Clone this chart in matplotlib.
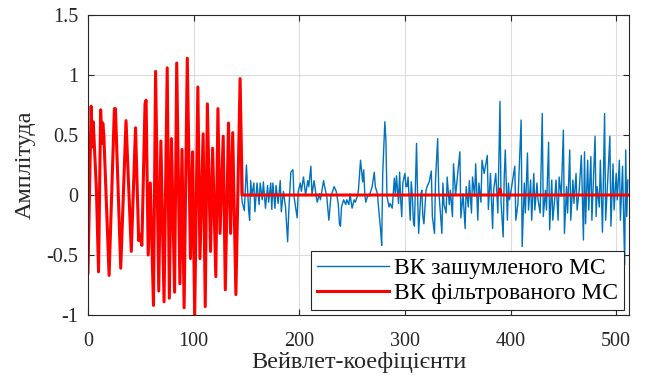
import numpy as np
import matplotlib
matplotlib.use("Agg")
import matplotlib.pyplot as plt

# %% Дані (вершини ламаної)
# ВК фільтрованого МС: індекс коефіцієнта та амплітуда
red_idx = [0, 3, 4, 5, 8, 10, 12, 13, 14, 15, 20, 25, 26, 31, 36, 41, 45, 48, 49, 51, 54, 55, 57,
           59, 62, 64, 67, 69, 72, 75, 77, 79, 82, 84, 87, 89, 91, 94, 97, 99, 101, 104, 106,
           109, 111, 113, 116, 118, 121, 123, 125, 128, 130, 133, 135, 137, 140, 144, 146,
           389, 390, 391, 511]
red_val = [-0.65, 0.74, 0.40, 0.61, 0.04, -0.64, 0.71, 0.43, 0.60, 0.50, -0.67, 0.72, 0.72, -0.61, 0.62, -0.47, 0.56, -0.38, -0.33, -0.42, 0.76, 0.79, -0.50,
           0.10, -0.92, 1.03, -0.80, 0.45, -0.89, 1.06, -0.86, 0.47, -0.81, 1.10, -0.74, 0.38, -0.94, 1.14, -0.53, 0.36, -1.02, 0.90, -0.53,
           0.51, -0.93, 0.76, -0.47, 0.39, -0.68, 0.72, -0.32, 0.49, -0.79, 0.60, -0.32, 0.52, -0.83, 0.97, 0.0,
           0.0, 0.05, 0.0, 0.0]

# ВК зашумленого МС: після 145-го коефіцієнта (до того збігається з фільтрованим)
noise_idx = [145, 146, 148, 150, 152, 153, 154, 155, 157, 158, 160, 162, 163, 165, 166, 168, 170, 171, 173, 174,
             175, 177, 178, 180, 182, 183, 185, 187, 189, 190, 192, 194, 195, 198, 199, 201, 202, 204, 206, 208,
             209, 211, 212, 214, 216, 217, 219, 220, 223, 224, 226, 228, 230, 233, 235, 237, 238, 239, 240, 242,
             244, 245, 247, 248, 250, 252, 253, 255, 256, 258, 260, 261, 262, 263, 265, 266, 268, 269, 271, 272,
             274, 275, 277, 278, 279, 281, 282, 283, 285, 286, 288, 290, 291, 292, 294, 295, 296, 297, 298, 300,
             301, 302, 303, 305, 306, 307, 308, 309, 311, 312, 313, 315, 316, 317, 318, 320, 321, 323, 325, 326,
             328, 329, 331, 332, 335, 336, 337, 339, 340, 342, 343, 345, 346, 348, 352, 353, 355, 357, 358, 360,
             361, 363, 364, 366, 367, 369, 370, 372, 373, 375, 378, 379, 381, 383, 384, 386, 388, 390, 391, 393,
             394, 395, 397, 398, 399, 400, 404, 405, 407, 408, 410, 411, 413, 414, 416, 417, 419, 420, 422, 423,
             425, 426, 428, 430, 431, 433, 434, 436, 437, 439, 440, 442, 443, 445, 446, 448, 450, 451, 453, 454,
             456, 457, 459, 460, 462, 463, 465, 467, 469, 470, 471, 473, 474, 476, 477, 480, 481, 482, 484, 485,
             487, 489, 490, 492, 494, 495, 497, 498, 500, 501, 503, 504, 506, 508, 509, 510, 511]
noise_val = [0.02, -0.06, -0.13, 0.25, -0.12, -0.21, 0.12, -0.01, 0.10, -0.14, 0.10, -0.08, 0.10, -0.04, 0.11, -0.11, 0.08, -0.06, 0.10, -0.12,
             0.10, -0.11, 0.08, -0.07, 0.12, -0.14, 0.03, -0.10, -0.39, -0.15, 0.19, 0.21, -0.01, -0.19, 0.03, 0.10, 0.03, 0.15, 0.00, 0.12,
             0.07, 0.24, 0.00, 0.12, -0.01, -0.06, 0.01, -0.04, 0.12, 0.07, -0.01, -0.21, -0.01, 0.07, 0.03, -0.08, -0.24, -0.26, -0.10, -0.04,
             -0.08, -0.04, -0.08, 0.01, -0.11, -0.04, -0.06, -0.01, 0.04, 0.29, 0.11, 0.21, 0.01, -0.06, 0.00, -0.01, 0.04, 0.07, 0.19, 0.07,
             0.01, -0.10, -0.29, -0.42, 0.18, 0.61, 0.46, -0.01, -0.10, -0.07, -0.11, 0.14, -0.01, 0.16, -0.07, 0.19, -0.04, -0.18, 0.10, 0.18,
             0.07, 0.07, 0.15, -0.21, 0.11, 0.00, -0.22, -0.26, 0.43, 0.00, -0.32, 0.00, 0.04, -0.18, -0.24, 0.04, 0.07, 0.11, 0.20, -0.18,
             -0.32, 0.13, 0.47, 0.04, -0.32, 0.10, -0.08, -0.15, 0.15, -0.08, 0.04, -0.18, 0.26, 0.00, 0.36, -0.19, 0.01, -0.28, 0.07, -0.10,
             0.12, -0.15, 0.15, -0.01, 0.26, -0.21, 0.10, -0.06, 0.29, 0.18, 0.33, -0.12, 0.18, -0.28, 0.04, 0.18, -0.15, 0.78, -0.06, -0.35,
             0.15, 0.375, -0.21, 0.10, -0.04, 0.01, 0.24, -0.21, -0.07, 0.18, 0.625, -0.43, 0.10, -0.15, 0.35, -0.125, 0.125, -0.21, 0.18, -0.125,
             0.10, -0.04, -0.15, 0.68, -0.18, 0.04, -0.125, 0.44, -0.29, 0.125, -0.21, -0.01, 0.125, -0.21, 0.15, -0.01, 0.54, -0.32, 0.07, -0.15,
             0.375, -0.21, 0.125, -0.07, 0.18, -0.125, 0.04, 0.33, -0.375, 0.36, -0.24, 0.29, -0.125, 0.32, -0.21, 0.49, -0.18, 0.07, -0.10, 0.29,
             -0.31, 0.68, -0.21, 0.125, 0.49, -0.26, 0.26, -0.125, 0.18, -0.04, 0.29, -0.21, 0.24, -0.58, 0.375, -0.18, 0.125]

x_ticks = [0, 100, 200, 300, 400, 500]
y_ticks = [-1, -0.5, 0, 0.5, 1, 1.5]
y_tick_labels = ["-1", "-0.5", "0", "0.5", "1", "1.5"]

# зашумлений сигнал = фільтрований до 144-го + шум далі
blue_idx = red_idx[:red_idx.index(144) + 1] + noise_idx
blue_val = red_val[:red_idx.index(144) + 1] + noise_val

# %% Рисунок
plt.rcParams["font.family"] = ["Liberation Serif", "DejaVu Serif"]
fig = plt.figure(figsize=(6.45, 3.81), dpi=100)
ax = fig.add_axes([0.1364, 0.1732, 0.8386, 0.7874])

ax.plot(blue_idx, blue_val, color="#0072BD", lw=1.0, label="ВК зашумленого МС")
ax.plot(red_idx, red_val, color="red", lw=2.2, label="ВК фільтрованого МС")

ax.set_xlim(0, 512)
ax.set_ylim(-1, 1.5)
ax.set_xticks(x_ticks)
ax.set_yticks(y_ticks)
ax.set_yticklabels(y_tick_labels)
ax.tick_params(direction="in", labelsize=14.5, colors="#262626", length=4, top=True, right=True,
               labeltop=False, labelright=False)
ax.tick_params(axis="x", pad=12)
ax.tick_params(axis="y", pad=7)
ax.grid(True, color="#dcdcdc", lw=0.8)
for s in ax.spines.values():
    s.set_color("#262626")
    s.set_linewidth(0.8)

ax.set_xlabel("Вейвлет-коефіцієнти", fontsize=17.5, color="#262626", labelpad=1)
ax.set_ylabel("Амплітуда", fontsize=17.5, color="#262626", labelpad=8)

leg = ax.legend(loc="lower right", fontsize=17, fancybox=False, framealpha=1,
                edgecolor="#262626", handlelength=3.05, handletextpad=0.21,
                borderaxespad=0.2, labelspacing=0.15, borderpad=0.26)
leg.get_frame().set_linewidth(0.8)

fig.savefig("out.png", dpi=100)
